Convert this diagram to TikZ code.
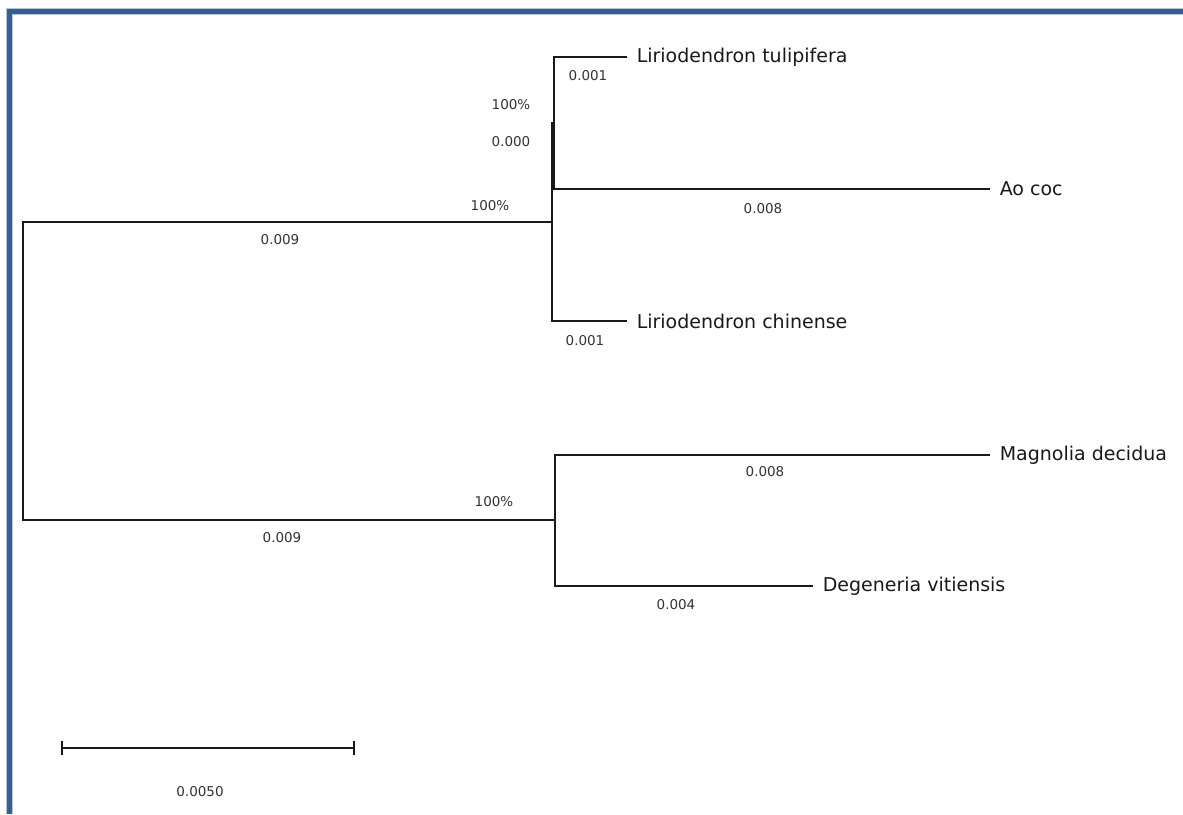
\documentclass[tikz,border=0pt]{standalone}
\usepackage{fontspec}
\usepackage{tikz}
\usetikzlibrary{arrows.meta, positioning}
\newfontfamily\treefont{DejaVu Sans}
\definecolor{frameBlue}{RGB}{54,95,145}
\definecolor{mainBlack}{gray}{0.1}

\begin{document}
\begin{tikzpicture}[x=1pt, y=-1pt, line width=1.5pt, mainBlack,
    leaf/.style={anchor=west, inner xsep=9pt, inner ysep=0pt, font=\fontsize{19}{21}\treefont},
    blen/.style={inner sep=0pt, font=\fontsize{13.5}{15}\treefont, text=black!80}]
    \useasboundingbox (0,0) rectangle (1183,814);
    \fill[white] (0,0) rectangle (1183,814);
    \draw[frameBlue!35, line width=7pt] (9,814) -- (9,11.5) -- (1190,11.5);
    \draw[frameBlue, line width=5pt] (9,814) -- (9,11.5) -- (1190,11.5);

    % inner nodes of the tree
    \coordinate (Rt) at (23,371);
    \coordinate (Lir) at (552,222);
    \coordinate (LirTA) at (554,123);
    \coordinate (Mag) at (555,520);

    % leaves
    \node[leaf] (tul) at (627,57) {Liriodendron tulipifera};
    \node[leaf] (ao) at (990,189) {Ao coc};
    \node[leaf] (chi) at (627,321) {Liriodendron chinense};
    \node[leaf] (mag) at (990,455) {Magnolia decidua};
    \node[leaf] (deg) at (813,586) {Degeneria vitiensis};

    % branches
    \draw (Lir) -- (Lir -| Rt) -- (Mag -| Rt) -- (Mag);
    \draw (LirTA) -- (LirTA -| Lir) -- (chi.west -| Lir) -- (chi.west);
    \draw (tul.west) -| (LirTA) |- (ao.west);
    \draw (mag.west) -| (Mag) |- (deg.west);

    % branch lengths and bootstrap values
    \node[blen] (b1) at (588,76) {0.001};
    \node[blen] (s1) at (511,105) {100\%};
    \node[blen] (b2) at (511,142) {0.000};
    \node[blen] (s2) at (490,206) {100\%};
    \node[blen] (b3) at (763,209) {0.008};
    \node[blen] (b4) at (280,240) {0.009};
    \node[blen] (b5) at (585,341) {0.001};
    \node[blen] (b6) at (765,472) {0.008};
    \node[blen] (s3) at (494,502) {100\%};
    \node[blen] (b7) at (282,538) {0.009};
    \node[blen] (b8) at (676,605) {0.004};

    % scale bar
    \coordinate (sbL) at (62,748);
    \coordinate (sbR) at (354,748);
    \draw[line width=2pt] (sbL) -- (sbR);
    \draw[line width=2pt] ([yshift=-7pt]sbL) -- ([yshift=7pt]sbL)
        ([yshift=-7pt]sbR) -- ([yshift=7pt]sbR);
    \node[blen] (sbT) at (200,792) {0.0050};
\end{tikzpicture}
\end{document}
